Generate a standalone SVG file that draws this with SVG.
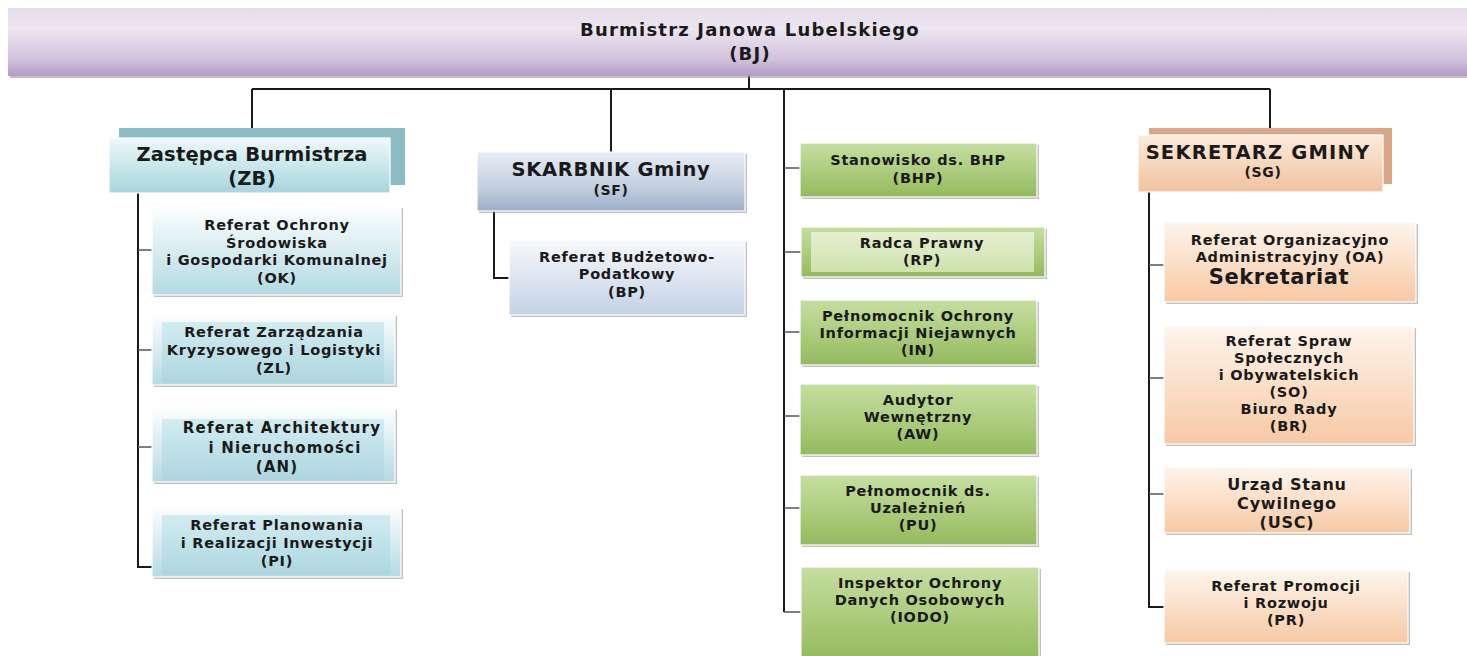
<svg xmlns="http://www.w3.org/2000/svg" width="1467" height="656" viewBox="0 0 1467 656">
<defs>
<linearGradient id="gBJ" x1="0" y1="0" x2="0" y2="1"><stop offset="0" stop-color="#e6dcec"/><stop offset="0.3" stop-color="#ece6f0"/><stop offset="0.75" stop-color="#d2c2dc"/><stop offset="1" stop-color="#b49cc4"/></linearGradient>
<linearGradient id="gZB" x1="0" y1="0" x2="0" y2="1"><stop offset="0" stop-color="#eef9fa"/><stop offset="1" stop-color="#a6d6de"/></linearGradient>
<linearGradient id="gBlue" x1="0" y1="0" x2="0" y2="1"><stop offset="0" stop-color="#fdfefe"/><stop offset="1" stop-color="#b3dae3"/></linearGradient>
<linearGradient id="gBlueIn" x1="0" y1="0" x2="0" y2="1"><stop offset="0" stop-color="#d2ecf1"/><stop offset="1" stop-color="#add6e0"/></linearGradient>
<linearGradient id="gSF" x1="0" y1="0" x2="0" y2="1"><stop offset="0" stop-color="#e6ecf5"/><stop offset="0.6" stop-color="#c3cfdf"/><stop offset="1" stop-color="#9cadc6"/></linearGradient>
<linearGradient id="gBP" x1="0" y1="0" x2="0" y2="1"><stop offset="0" stop-color="#f7f9fc"/><stop offset="1" stop-color="#c3d1e5"/></linearGradient>
<linearGradient id="gGreen" x1="0" y1="0" x2="0" y2="1"><stop offset="0" stop-color="#c6dea0"/><stop offset="0.5" stop-color="#aecd7f"/><stop offset="1" stop-color="#93ba5d"/></linearGradient>
<linearGradient id="gGreenIn" x1="0" y1="0" x2="0" y2="1"><stop offset="0" stop-color="#e4efcf"/><stop offset="1" stop-color="#cfe2ae"/></linearGradient>
<linearGradient id="gSG" x1="0" y1="0" x2="0" y2="1"><stop offset="0" stop-color="#fdebdc"/><stop offset="1" stop-color="#f1c29e"/></linearGradient>
<linearGradient id="gOr" x1="0" y1="0" x2="0" y2="1"><stop offset="0" stop-color="#fef5ec"/><stop offset="1" stop-color="#f7c9a4"/></linearGradient>
</defs>
<style>
text{font-family:"DejaVu Sans","Verdana",sans-serif;font-weight:bold;fill:#1a1a1a;text-anchor:middle}
.s{font-size:14.5px;letter-spacing:0.75px}
.a{font-size:15px;letter-spacing:1.2px}
.u{font-size:16px;letter-spacing:0.8px}
.h{font-size:19.5px;letter-spacing:0.2px}
.m{font-size:14px;letter-spacing:0.6px}
.t{font-size:18px;letter-spacing:1.2px}
.sh{fill:#8e8e8e;opacity:0.55}
.bd{stroke:#ffffff;stroke-width:1.2}
.conn{fill:none;stroke:#1a1a1a;stroke-width:2}
.tick{fill:none;stroke:#555;stroke-width:1.3}
</style>
<rect width="1467" height="656" fill="#ffffff"/>

<g id="connectors">
<path class="conn" d="M749 76V89M252 89H1270M252 89V138M611 89V152M784 89V612M1270 89V128"/>
<path class="conn" d="M138 193V567H152"/>
<path class="tick" d="M138 250H152M138 350H152M138 447H152"/>
<path class="conn" d="M494 211V278H509"/>
<path class="tick" d="M784 168H800M784 252H801M784 332H800M784 416H800M784 508H800M784 612H801"/>
<path class="conn" d="M1149 192V607H1164"/>
<path class="tick" d="M1149 265H1164M1149 378H1164M1149 494H1164"/>
</g>

<g id="BJ">
<rect class="sh" x="10" y="10" width="1457" height="68"/>
<rect x="8" y="8" width="1459" height="68" fill="url(#gBJ)"/>
<text class="t" x="750" y="36">Burmistrz Janowa Lubelskiego</text>
<text class="t" x="750" y="60">(BJ)</text>
</g>

<g id="ZB">
<rect x="119" y="128" width="286" height="57" fill="#8cbcc5"/>
<rect x="109" y="138" width="281" height="55" fill="url(#gZB)" class="bd"/>
<text class="h" x="252" y="161">Zastępca Burmistrza</text>
<text class="h" x="252" y="185">(ZB)</text>
</g>

<g id="OK">
<rect class="sh" x="154" y="208" width="249" height="89"/>
<rect x="152" y="206" width="249" height="89" fill="url(#gBlue)" class="bd"/>
<text class="s" x="277" y="230">Referat Ochrony</text>
<text class="s" x="277" y="248">Środowiska</text>
<text class="s" x="277" y="265">i Gospodarki Komunalnej</text>
<text class="s" x="277" y="283">(OK)</text>
</g>

<g id="ZL">
<rect class="sh" x="154" y="316" width="243" height="71"/>
<rect x="152" y="314" width="243" height="71" fill="url(#gBlue)" class="bd"/>
<rect x="162" y="322" width="222" height="61" fill="url(#gBlueIn)"/>
<text class="s" x="274" y="337">Referat Zarządzania</text>
<text class="s" x="274" y="355">Kryzysowego i Logistyki</text>
<text class="s" x="274" y="373">(ZL)</text>
</g>

<g id="AN">
<rect class="sh" x="154" y="410" width="243" height="74"/>
<rect x="152" y="408" width="243" height="74" fill="url(#gBlue)" class="bd"/>
<rect x="162" y="419" width="222" height="61" fill="url(#gBlueIn)"/>
<text class="a" x="282" y="433">Referat Architektury</text>
<text class="a" x="285" y="453">i Nieruchomości</text>
<text class="a" x="277" y="472">(AN)</text>
</g>

<g id="PI">
<rect class="sh" x="154" y="509" width="249" height="70"/>
<rect x="152" y="507" width="249" height="70" fill="url(#gBlue)" class="bd"/>
<rect x="162" y="515" width="228" height="60" fill="url(#gBlueIn)"/>
<text class="s" x="277" y="530">Referat Planowania</text>
<text class="s" x="277" y="548">i Realizacji Inwestycji</text>
<text class="s" x="277" y="566">(PI)</text>
</g>

<g id="SF">
<rect class="sh" x="479" y="154" width="268" height="59"/>
<rect x="477" y="152" width="268" height="59" fill="url(#gSF)" class="bd"/>
<text class="h" x="611" y="176" style="letter-spacing:0.7px">SKARBNIK Gminy</text>
<text class="m" x="611" y="195">(SF)</text>
</g>

<g id="BP">
<rect class="sh" x="511" y="242" width="236" height="75"/>
<rect x="509" y="240" width="236" height="75" fill="url(#gBP)" class="bd"/>
<text class="s" x="627" y="262">Referat Budżetowo-</text>
<text class="s" x="627" y="279">Podatkowy</text>
<text class="s" x="627" y="297">(BP)</text>
</g>

<g id="BHP">
<rect class="sh" x="802" y="145" width="237" height="54"/>
<rect x="800" y="143" width="237" height="54" fill="url(#gGreen)" class="bd"/>
<text class="s" x="918" y="165">Stanowisko ds. BHP</text>
<text class="s" x="918" y="183">(BHP)</text>
</g>

<g id="RP">
<rect class="sh" x="803" y="229" width="244" height="50"/>
<rect x="801" y="227" width="244" height="50" fill="url(#gGreen)" class="bd"/>
<rect x="811" y="232" width="223" height="40" fill="url(#gGreenIn)"/>
<text class="s" x="922" y="248">Radca Prawny</text>
<text class="s" x="922" y="265">(RP)</text>
</g>

<g id="IN">
<rect class="sh" x="802" y="302" width="237" height="65"/>
<rect x="800" y="300" width="237" height="65" fill="url(#gGreen)" class="bd"/>
<text class="s" x="918" y="321">Pełnomocnik Ochrony</text>
<text class="s" x="918" y="338">Informacji Niejawnych</text>
<text class="s" x="918" y="355">(IN)</text>
</g>

<g id="AW">
<rect class="sh" x="802" y="386" width="237" height="71"/>
<rect x="800" y="384" width="237" height="71" fill="url(#gGreen)" class="bd"/>
<text class="s" x="918" y="405">Audytor</text>
<text class="s" x="918" y="422">Wewnętrzny</text>
<text class="s" x="918" y="439">(AW)</text>
</g>

<g id="PU">
<rect class="sh" x="802" y="477" width="237" height="70"/>
<rect x="800" y="475" width="237" height="70" fill="url(#gGreen)" class="bd"/>
<text class="s" x="918" y="496">Pełnomocnik ds.</text>
<text class="s" x="918" y="513">Uzależnień</text>
<text class="s" x="918" y="530">(PU)</text>
</g>

<g id="IODO">
<rect class="sh" x="803" y="569" width="238" height="90"/>
<rect x="801" y="567" width="238" height="92" fill="url(#gGreen)" class="bd"/>
<text class="s" x="920" y="588">Inspektor Ochrony</text>
<text class="s" x="920" y="605">Danych Osobowych</text>
<text class="s" x="920" y="622">(IODO)</text>
</g>

<g id="SG">
<rect x="1149" y="128" width="243" height="56" fill="#dba685"/>
<rect x="1138" y="135" width="245" height="57" fill="url(#gSG)" class="bd"/>
<text class="h" x="1258" y="159" style="letter-spacing:1.2px">SEKRETARZ GMINY</text>
<text class="m" x="1263" y="177">(SG)</text>
</g>

<g id="OA">
<rect class="sh" x="1166" y="224" width="252" height="80"/>
<rect x="1164" y="222" width="252" height="80" fill="url(#gOr)" class="bd"/>
<text class="s" x="1290" y="245">Referat Organizacyjno</text>
<text class="s" x="1290" y="262">Administracyjny (OA)</text>
<text x="1279" y="284" style="font-size:21px;letter-spacing:0.6px">Sekretariat</text>
</g>

<g id="SO">
<rect class="sh" x="1166" y="328" width="250" height="118"/>
<rect x="1164" y="326" width="250" height="118" fill="url(#gOr)" class="bd"/>
<text class="s" x="1289" y="346">Referat Spraw</text>
<text class="s" x="1289" y="363">Społecznych</text>
<text class="s" x="1289" y="380">i Obywatelskich</text>
<text class="s" x="1289" y="397">(SO)</text>
<text class="s" x="1289" y="414">Biuro Rady</text>
<text class="s" x="1289" y="431">(BR)</text>
</g>

<g id="USC">
<rect class="sh" x="1166" y="469" width="246" height="66"/>
<rect x="1164" y="467" width="246" height="66" fill="url(#gOr)" class="bd"/>
<text class="u" x="1287" y="490">Urząd Stanu</text>
<text class="u" x="1287" y="509">Cywilnego</text>
<text class="u" x="1287" y="528">(USC)</text>
</g>

<g id="PR">
<rect class="sh" x="1166" y="572" width="244" height="73"/>
<rect x="1164" y="570" width="244" height="73" fill="url(#gOr)" class="bd"/>
<text class="s" x="1286" y="591">Referat Promocji</text>
<text class="s" x="1286" y="608">i Rozwoju</text>
<text class="s" x="1286" y="625">(PR)</text>
</g>
</svg>
